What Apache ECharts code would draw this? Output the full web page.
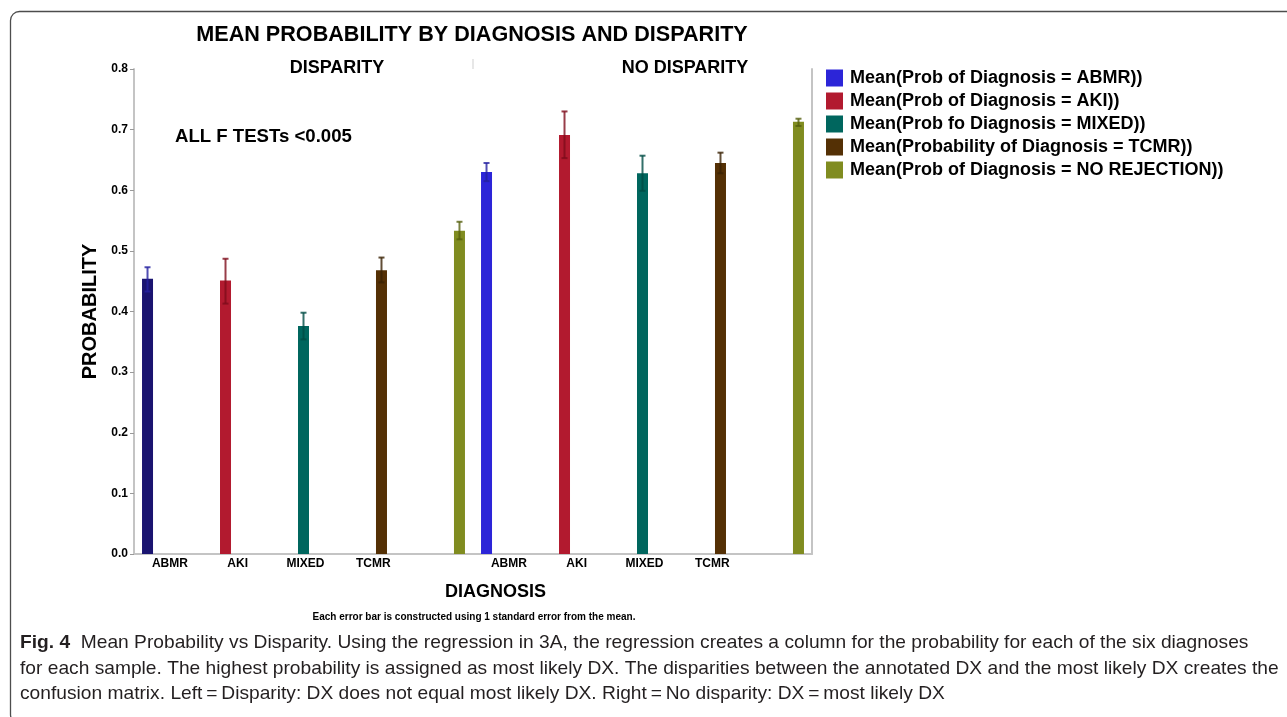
<!DOCTYPE html>
<html>
<head>
<meta charset="utf-8">
<script src="https://cdn.jsdelivr.net/npm/echarts@6/dist/echarts.min.js"></script>
<style>
html,body{margin:0;padding:0;background:#fff;}
#chart{width:1287px;height:717px;}
</style>
</head>
<body>
<div id="chart"></div>
<script>
// ---------- data ----------
const groups = ['DISPARITY', 'NO DISPARITY'];
const slotLabels = ['ABMR', 'AKI', 'MIXED', 'TCMR', '', 'ABMR', 'AKI', 'MIXED', 'TCMR', ''];
const seriesNames = [
  'Mean(Prob of Diagnosis = ABMR))',
  'Mean(Prob of Diagnosis = AKI))',
  'Mean(Prob fo Diagnosis = MIXED))',
  'Mean(Probability of Diagnosis = TCMR))',
  'Mean(Prob of Diagnosis = NO REJECTION))'
];
// means: [DISPARITY, NO DISPARITY]
const meanABMR  = [0.454, 0.630];
const meanAKI   = [0.451, 0.691];
const meanMIXED = [0.376, 0.628];
const meanTCMR  = [0.468, 0.645];
const meanNOREJ = [0.533, 0.713];
// error bars (mean ± 1 SE): [low, high] per group
const errABMR  = [[0.433, 0.473], [0.615, 0.645]];
const errAKI   = [[0.413, 0.487], [0.653, 0.730]];
const errMIXED = [[0.354, 0.398], [0.599, 0.657]];
const errTCMR  = [[0.448, 0.489], [0.628, 0.662]];
const errNOREJ = [[0.519, 0.548], [0.706, 0.718]];
const yTicks = [0, 0.8, 0.1];

// ---------- styles ----------
const barColors = ['#2c25d8', '#b21a2f', '#00665e', '#543005', '#808c20'];
const firstABMRColor = '#1a1470';
const errColors = ['#2420a0', '#7e0c1c', '#004c45', '#3a2204', '#56600f'];
const BW = 11, GAP = 6.09;
const FONT = '"Liberation Sans", Arial, sans-serif';

const means = [meanABMR, meanAKI, meanMIXED, meanTCMR, meanNOREJ];
const errs = [errABMR, errAKI, errMIXED, errTCMR, errNOREJ];

const chart = echarts.init(document.getElementById('chart'));

const series = [];
means.forEach(function (m, k) {
  series.push({
    name: seriesNames[k],
    type: 'bar',
    xAxisIndex: 0,
    yAxisIndex: 0,
    barWidth: BW,
    barGap: (GAP * 100) + '%',
    itemStyle: {color: barColors[k]},
    data: m.map(function (v, i) {
      if (k === 0 && i === 0) return {value: v, itemStyle: {color: firstABMRColor}};
      return v;
    }),
    z: 2
  });
});
errs.forEach(function (e, k) {
  series.push({
    name: seriesNames[k],
    type: 'custom',
    xAxisIndex: 0,
    yAxisIndex: 0,
    z: 3,
    encode: {x: 0, y: [1, 2]},
    data: e.map(function (lh, i) { return [i, lh[0], lh[1]]; }),
    renderItem: function (params, api) {
      const cat = api.value(0);
      const pLo = api.coord([cat, api.value(1)]);
      const pHi = api.coord([cat, api.value(2)]);
      const n = errs.length;
      const total = n * BW + (n - 1) * BW * GAP;
      const off = -total / 2 + k * (BW + BW * GAP) + BW / 2;
      const x = pLo[0] + off;
      const cw = 3;
      const st = {stroke: errColors[k], lineWidth: 2, opacity: 0.8};
      return {
        type: 'group',
        children: [
          {type: 'line', shape: {x1: x, y1: pLo[1], x2: x, y2: pHi[1]}, style: st},
          {type: 'line', shape: {x1: x - cw, y1: pHi[1], x2: x + cw, y2: pHi[1]}, style: st},
          {type: 'line', shape: {x1: x - cw, y1: pLo[1], x2: x + cw, y2: pLo[1]}, style: st}
        ]
      };
    }
  });
});

const captionLines = [
  '{b|Fig. 4}  Mean Probability vs Disparity. Using the regression in 3A, the regression creates a column for the probability for each of the six diagnoses',
  'for each sample. The highest probability is assigned as most likely DX. The disparities between the annotated DX and the most likely DX creates the',
  'confusion matrix. Left\u2009=\u2009Disparity: DX does not equal most likely DX. Right\u2009=\u2009No disparity: DX\u2009=\u2009most likely DX'
];
const captionY = [643, 669, 694];

const option = {
  animation: false,
  backgroundColor: '#fff',
  grid: {left: 134, top: 69, width: 678, height: 485, containLabel: false},
  legend: {
    orient: 'vertical',
    left: 821,
    top: 64,
    itemWidth: 17,
    itemHeight: 17,
    itemGap: 5,
    icon: 'rect',
    textStyle: {fontFamily: FONT, fontWeight: 'bold', fontSize: 18, color: '#000', padding: [0, 0, 0, 2]},
    data: seriesNames.map(function (n, k) { return {name: n, itemStyle: {color: barColors[k]}}; })
  },
  xAxis: [
    {
      type: 'category',
      data: groups,
      position: 'top',
      boundaryGap: true,
      axisLine: {show: false},
      axisTick: {show: false},
      axisLabel: {
        margin: -8,
        formatter: function (v, i) { return i === 0 ? '{a|' + v + '}' : '{c|' + v + '}'; },
        rich: {
          a: {fontFamily: FONT, fontWeight: 'bold', fontSize: 18, color: '#000', padding: [0, 0, 0, 67]},
          c: {fontFamily: FONT, fontWeight: 'bold', fontSize: 18, color: '#000', padding: [0, 0, 0, 85]}
        }
      }
    },
    {
      type: 'category',
      data: slotLabels,
      position: 'bottom',
      boundaryGap: true,
      axisLine: {show: true, lineStyle: {color: '#c4c4c4', width: 2}},
      axisTick: {show: false},
      axisLabel: {
        interval: 0, margin: 4,
        fontFamily: FONT, fontWeight: 'bold', fontSize: 12, color: '#000',
        padding: [0, 0, 0, 4]
      },
      name: 'DIAGNOSIS',
      nameLocation: 'middle',
      nameGap: 29,
      nameTextStyle: {fontFamily: FONT, fontWeight: 'bold', fontSize: 18, color: '#000', padding: [0, 0, 0, 45]}
    }
  ],
  yAxis: [
    {
      type: 'value',
      min: yTicks[0], max: yTicks[1], interval: yTicks[2],
      position: 'left',
      axisLine: {show: true, lineStyle: {color: '#c4c4c4', width: 2}},
      axisTick: {show: true, length: 4, lineStyle: {color: '#999', width: 1}},
      splitLine: {show: false},
      axisLabel: {
        margin: 6,
        formatter: function (v) { return v.toFixed(1); },
        fontFamily: FONT, fontWeight: 'bold', fontSize: 12, color: '#000'
      },
      name: 'PROBABILITY',
      nameLocation: 'middle',
      nameRotate: 90,
      nameGap: 29,
      nameTextStyle: {fontFamily: FONT, fontWeight: 'bold', fontSize: 20, color: '#000'}
    },
    {
      type: 'value',
      min: yTicks[0], max: yTicks[1], interval: yTicks[2],
      position: 'right',
      axisLine: {show: true, lineStyle: {color: '#c4c4c4', width: 2}},
      axisTick: {show: false},
      axisLabel: {show: false},
      splitLine: {show: false}
    }
  ],
  series: series
};
chart.setOption(option);

// decorations positioned from the axes
const c0 = chart.convertToPixel({xAxisIndex: 0}, groups[0]);
const c1 = chart.convertToPixel({xAxisIndex: 0}, groups[1]);
const yTop = chart.convertToPixel({yAxisIndex: 0}, yTicks[1]);
const divX = (c0 + c1) / 2;

const graphics = [
  {
    type: 'rect', silent: true,
    shape: {x: 10.5, y: 11.5, width: 1300, height: 712, r: 9},
    style: {fill: 'none', stroke: '#4d4d4d', lineWidth: 1.3}
  },
  {
    type: 'line', silent: true,
    shape: {x1: divX, y1: yTop - 10, x2: divX, y2: yTop},
    style: {stroke: '#cfcfcf', lineWidth: 1}
  },
  {
    type: 'text', x: 472, y: 35,
    style: {text: 'MEAN PROBABILITY BY DIAGNOSIS AND DISPARITY', font: 'bold 21.6px ' + FONT, fill: '#000', align: 'center', verticalAlign: 'middle'}
  },
  {
    type: 'text', x: 175, y: 137,
    style: {text: 'ALL F TESTs <0.005', font: 'bold 18.6px ' + FONT, fill: '#000', align: 'left', verticalAlign: 'middle'}
  },
  {
    type: 'text', x: 474, y: 617,
    style: {text: 'Each error bar is constructed using 1 standard error from the mean.', font: 'bold 10px ' + FONT, fill: '#000', align: 'center', verticalAlign: 'middle'}
  }
];
captionLines.forEach(function (t, i) {
  graphics.push({
    type: 'text', x: 20, y: captionY[i], scaleX: 1.01, originX: 0,
    style: {
      text: t, font: '19px ' + FONT, fill: '#231f20', align: 'left', verticalAlign: 'middle',
      rich: {b: {font: 'bold 19px ' + FONT, fill: '#231f20'}}
    }
  });
});
chart.setOption({graphic: graphics});
</script>
</body>
</html>
